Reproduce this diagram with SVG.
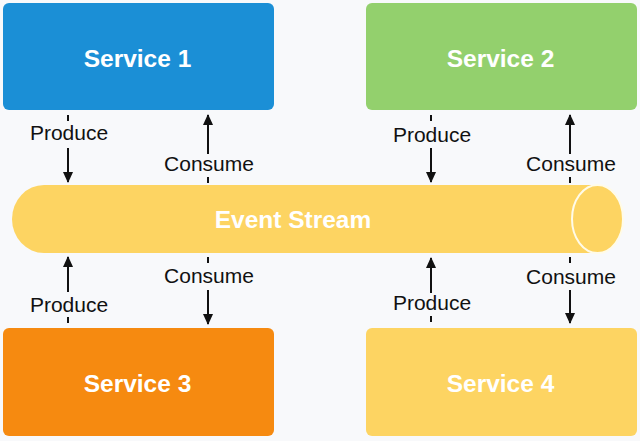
<svg xmlns="http://www.w3.org/2000/svg" width="640" height="441" viewBox="0 0 640 441">
<style>
.box{stroke:none}
.title{font-family:"Liberation Sans",Arial,sans-serif;font-weight:bold;font-size:24.5px;fill:#ffffff;text-anchor:middle}
.lbl{font-family:"Liberation Sans",Arial,sans-serif;font-size:21px;fill:#111111;text-anchor:middle}
.ln{stroke:#111111;stroke-width:2;fill:none}
</style>
<defs>
<marker id="ah" viewBox="0 0 12 12" refX="11" refY="6" markerWidth="12" markerHeight="11" markerUnits="userSpaceOnUse" orient="auto">
<path d="M0,0.5 L12,6 L0,11.5 z" fill="#111111"/>
</marker>
</defs>
<rect width="640" height="441" fill="#f8f9fb"/>
<g id="service1"><rect class="box" x="3" y="3" width="271" height="107" rx="6" fill="#1b8fd6"/><text class="title" x="137.5" y="67">Service 1</text></g>
<g id="service2"><rect class="box" x="366" y="3" width="271" height="107" rx="6" fill="#93d06d"/><text class="title" x="500.5" y="67">Service 2</text></g>
<g id="service3"><rect class="box" x="3" y="328" width="271" height="108" rx="6" fill="#f68a10"/><text class="title" x="137.5" y="392">Service 3</text></g>
<g id="service4"><rect class="box" x="366" y="328" width="271" height="108" rx="6" fill="#fdd462"/><text class="title" x="500.5" y="392">Service 4</text></g>
<g id="event-stream">
<path d="M597,185 L44,185 A32,34 0 0 0 12,219 A32,34 0 0 0 44,253 L597,253 Z" fill="#fdd462"/>
<ellipse cx="597.5" cy="219" rx="25.5" ry="34" fill="#fdd462" stroke="#fffbe8" stroke-width="2"/>
<text class="title" x="293" y="228">Event Stream</text>
</g>
<g id="connectors">
<line class="ln" x1="68" y1="115" x2="68" y2="121"/>
<line class="ln" x1="68" y1="148" x2="68" y2="182" marker-end="url(#ah)"/>
<text class="lbl" x="69" y="140">Produce</text>
<line class="ln" x1="208" y1="154" x2="208" y2="115" marker-end="url(#ah)"/>
<text class="lbl" x="209" y="171">Consume</text>
<line class="ln" x1="208" y1="177" x2="208" y2="183"/>
<line class="ln" x1="431" y1="115" x2="431" y2="121"/>
<line class="ln" x1="431" y1="148" x2="431" y2="182" marker-end="url(#ah)"/>
<text class="lbl" x="432" y="142">Produce</text>
<line class="ln" x1="570" y1="154" x2="570" y2="115" marker-end="url(#ah)"/>
<text class="lbl" x="571" y="171">Consume</text>
<line class="ln" x1="570" y1="177" x2="570" y2="183"/>
<line class="ln" x1="68" y1="292" x2="68" y2="257" marker-end="url(#ah)"/>
<text class="lbl" x="69" y="312">Produce</text>
<line class="ln" x1="68" y1="317" x2="68" y2="323"/>
<line class="ln" x1="208" y1="257" x2="208" y2="263"/>
<text class="lbl" x="209" y="283">Consume</text>
<line class="ln" x1="208" y1="290" x2="208" y2="324" marker-end="url(#ah)"/>
<line class="ln" x1="431" y1="293" x2="431" y2="258" marker-end="url(#ah)"/>
<text class="lbl" x="432" y="310">Produce</text>
<line class="ln" x1="431" y1="316" x2="431" y2="322"/>
<line class="ln" x1="570" y1="257" x2="570" y2="263"/>
<text class="lbl" x="571" y="284">Consume</text>
<line class="ln" x1="570" y1="290" x2="570" y2="323" marker-end="url(#ah)"/>
</g>
</svg>
